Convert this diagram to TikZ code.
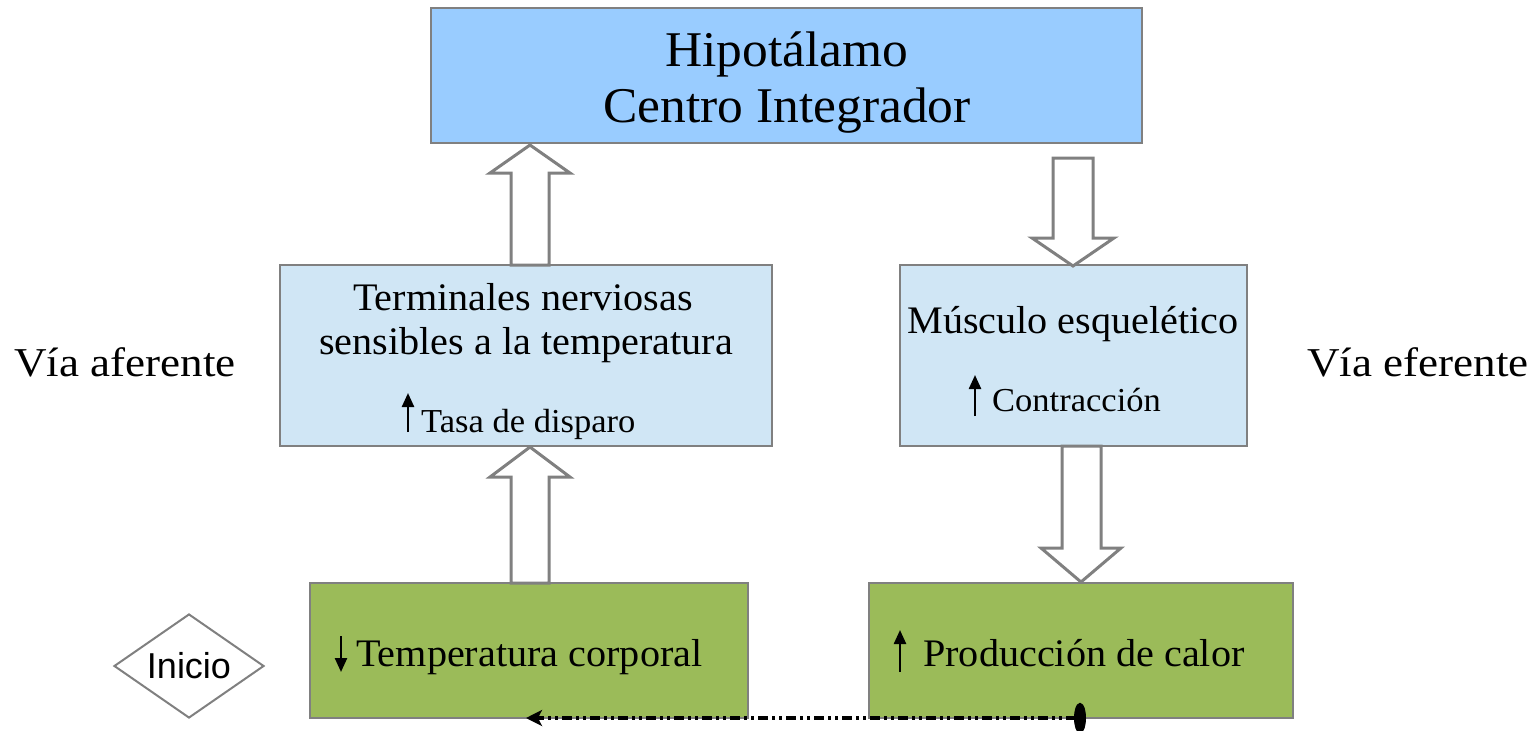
\documentclass[tikz,border=0pt]{standalone}
\usepackage{fontspec}
\setmainfont{Liberation Serif}[FakeStretch=1.03]
\newfontfamily\widef{Liberation Serif}[FakeStretch=1.1]
\newfontfamily\sansf{Liberation Sans}
\usetikzlibrary{arrows.meta,shapes.geometric,calc}
\definecolor{topblue}{HTML}{99CCFF}
\definecolor{midblue}{HTML}{D0E6F5}
\definecolor{boxgreen}{HTML}{9BBB59}
\definecolor{boxgray}{HTML}{808080}
\begin{document}
\begin{tikzpicture}[x=1pt,y=-1pt,
  box/.style={draw=boxgray,line width=2.5pt,inner sep=0pt,outer sep=0pt,anchor=center},
  blockarrow/.style={draw=boxgray,fill=white,line width=3pt,line join=miter},
  bigtxt/.style={font=\fontsize{50}{55}\selectfont,anchor=base,inner sep=0pt},
  midtxt/.style={font=\fontsize{39}{44}\selectfont,anchor=base,inner sep=0pt},
  sidetxt/.style={font=\widef\fontsize{41}{46}\selectfont,anchor=base,inner sep=0pt},
  smalltxt/.style={font=\fontsize{33.5}{40}\selectfont,anchor=base west,inner sep=0pt},
  smallarrow/.style={line width=2.4pt,-{Triangle[length=14pt,width=12pt]}},
  flow/.style={line width=3.2pt,dash pattern=on 10pt off 4pt on 3pt off 4pt on 3pt off 4pt,
    {Ellipse[length=12pt,width=30pt]}-{Stealth[length=16pt,width=16pt,inset=4pt]}}
]
\useasboundingbox (0,0) rectangle (1532,731);

% boxes
\node[box,fill=topblue,minimum width=711pt,minimum height=135pt] (hipo) at (786.5,75.5) {};
\node[box,fill=midblue,minimum width=492pt,minimum height=181pt] (term) at (526,355.5) {};
\node[box,fill=midblue,minimum width=347pt,minimum height=181pt] (musc) at (1073.5,355.5) {};
\node[box,fill=boxgreen,minimum width=438pt,minimum height=135pt] (temp) at (529,650.5) {};
\node[box,fill=boxgreen,minimum width=424pt,minimum height=135pt] (prod) at (1081,650.5) {};

% texts
\node[bigtxt] (hipoA) at (787,66) {Hipotálamo};
\node[bigtxt] (hipoB) at (787,122) {Centro Integrador};
\node[midtxt] (termA) at (523,310) {Terminales nerviosas};
\node[midtxt] (termB) at (526,354) {sensibles a la temperatura};
\node[smalltxt] (tasa) at (421,432) {Tasa de disparo};
\node[midtxt] (muscA) at (1073,333) {Músculo esquelético};
\node[smalltxt] (contr) at (992,411) {Contracción};
\node[midtxt,anchor=base west] (tempT) at (356,666) {Temperatura corporal};
\node[midtxt,anchor=base west] (prodT) at (923,666) {Producción de calor};
\node[sidetxt] (afer) at (125,376) {Vía aferente};
\node[sidetxt] (efer) at (1418,376) {Vía eferente};

% start diamond
\node[diamond,draw=boxgray,line width=2pt,fill=white,aspect=1.45,minimum width=150pt,minimum height=104pt,inner sep=0pt,font=\sansf\fontsize{36}{40}\selectfont] (inicio) at (189,666) {Inicio};

% small arrows
\draw[smallarrow] (408,432) -- (408,393);
\draw[smallarrow] (975,416) -- (975,375);
\draw[smallarrow] (341,636) -- (341,672);
\draw[smallarrow] (900,672) -- (900,630);

% block arrows
\draw[blockarrow] (511,265) -- (511,173) -- (490,173) -- (530,145) -- (570,173) -- (549,173) -- (549,265) -- cycle;
\draw[blockarrow] (511,583) -- (511,477) -- (490,477) -- (530,447) -- (570,477) -- (549,477) -- (549,583) -- cycle;
\draw[blockarrow] (1053,158) -- (1053,238) -- (1032,238) -- (1073,266) -- (1114,238) -- (1093,238) -- (1093,158) -- cycle;
\draw[blockarrow] (1062,446) -- (1062,548) -- (1041,548) -- (1081,582) -- (1121,548) -- (1101,548) -- (1101,446) -- cycle;

% feedback line
\coordinate (fbS) at ($(prod.south west)+(217,0)$);
\coordinate (fbE) at ($(temp.south west)+(216,0)$);
\draw[flow] (fbS) -- (fbE);
\end{tikzpicture}
\end{document}
